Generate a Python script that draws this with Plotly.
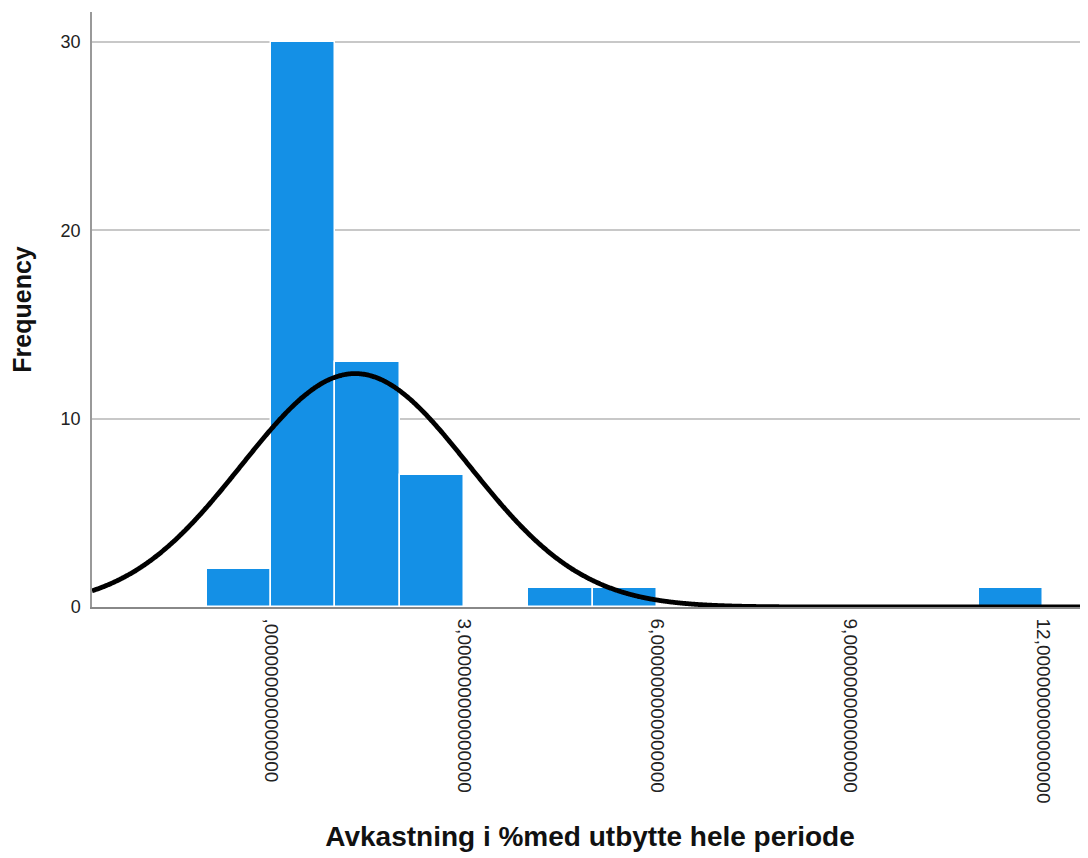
import numpy as np
import plotly.graph_objects as go

# Histogram bins (left edges) and counts
bin_left = [-1, 0, 1, 2, 4, 5, 11]
counts = [2, 30, 13, 7, 1, 1, 1]
bin_width = 1.0

# Normal curve parameters (fitted)
mean_val = 1.31
sd_val = 1.77
n_total = sum(counts)

tick_vals = [0, 3, 6, 9, 12]
tick_text = [",000000000000000", "3,000000000000000", "6,000000000000000",
             "9,000000000000000", "12,000000000000000"]
y_ticks = [0, 10, 20, 30]

x_range = [-2.78, 12.70]
y_range = [0, 31.6]

centers = [b + bin_width / 2 for b in bin_left]
xc = np.linspace(x_range[0], x_range[1], 800)
yc = n_total * bin_width / (sd_val * np.sqrt(2 * np.pi)) * np.exp(-0.5 * ((xc - mean_val) / sd_val) ** 2)

fig = go.Figure()
fig.add_trace(go.Bar(
    x=centers, y=counts, width=bin_width,
    marker=dict(color="#1490E6", line=dict(color="white", width=1.5)),
    showlegend=False, hoverinfo="skip",
))
fig.add_trace(go.Scatter(
    x=xc, y=yc, mode="lines",
    line=dict(color="black", width=4.8, shape="spline"),
    showlegend=False, hoverinfo="skip", cliponaxis=True,
))

fig.update_layout(
    width=1080, height=850,
    margin=dict(l=84, r=0, t=4, b=251),
    paper_bgcolor="white", plot_bgcolor="white",
    font=dict(family="Liberation Sans, Arial, sans-serif", color="#222222"),
    bargap=0,
    xaxis=dict(
        range=x_range, tickmode="array", tickvals=tick_vals, ticktext=tick_text,
        tickangle=90, showgrid=False, zeroline=False,
        showline=True, linecolor="#888888", linewidth=1.5,
        ticks="outside", ticklen=6, tickcolor="rgba(0,0,0,0)",
        tickfont=dict(size=19, color="#222222"),
        title=dict(text="<b>Avkastning i %med utbytte hele periode</b>",
                   font=dict(size=28, color="#111111"), standoff=24),
    ),
    yaxis=dict(
        range=y_range, tickmode="array", tickvals=y_ticks,
        showgrid=True, gridcolor="#C8C8C8", gridwidth=1.5, zeroline=False,
        showline=True, linecolor="#999999", linewidth=1.5,
        ticks="outside", ticklen=6, tickcolor="rgba(0,0,0,0)",
        tickfont=dict(size=18, color="#222222"),
        title=dict(text="<b>Frequency</b>", font=dict(size=25, color="#111111"), standoff=22),
    ),
)

fig.write_html("out.html")
